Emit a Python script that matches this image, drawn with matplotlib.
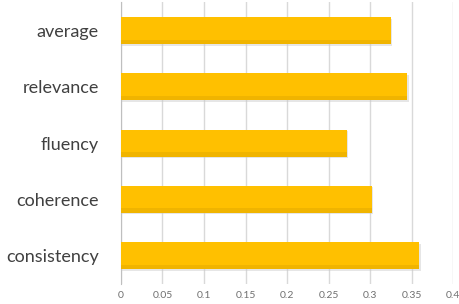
import matplotlib
matplotlib.use("Agg")
import matplotlib.pyplot as plt

categories = ["consistency", "coherence", "fluency", "relevance", "average"]
scores = [0.359, 0.302, 0.272, 0.345, 0.325]
xticks = [0, 0.05, 0.1, 0.15, 0.2, 0.25, 0.3, 0.35, 0.4]
xtick_labels = ["0", "0.05", "0.1", "0.15", "0.2", "0.25", "0.3", "0.35", "0.4"]

plt.rcParams["font.family"] = ["Lato", "DejaVu Sans"]

fig = plt.figure(figsize=(4.6, 3.04), dpi=100)
ax = fig.add_axes([0.263, 0.067, 0.722, 0.925])

pos = list(range(len(categories)))
# soft shadow below/right of each bar
ax.barh([p - 0.03 for p in pos], [s + 0.002 for s in scores], height=0.48,
        color="#c8c8c8", alpha=0.45, zorder=2)
ax.barh(pos, scores, height=0.48, color="#FFC000", zorder=3)
# slightly darker lower edge to mimic the gradient
ax.barh([p - 0.2 for p in pos], scores, height=0.08, color="#F0B400", zorder=4)

ax.set_xlim(0, 0.4)
ax.set_ylim(-0.5, 4.5)
ax.set_xticks(xticks)
ax.set_xticklabels(xtick_labels, fontsize=7.5, color="#707070")
ax.set_yticks(pos)
ax.set_yticklabels(categories, fontsize=13, color="#404040")
ax.tick_params(axis="both", length=0)
ax.tick_params(axis="x", pad=5)
ax.tick_params(axis="y", pad=16)
ax.grid(axis="x", color="#d9d9d9", linewidth=1, zorder=0)
ax.set_axisbelow(True)
for side in ["top", "right", "bottom"]:
    ax.spines[side].set_visible(False)
ax.spines["left"].set_color("#bfbfbf")

fig.savefig("out.png", dpi=100)
